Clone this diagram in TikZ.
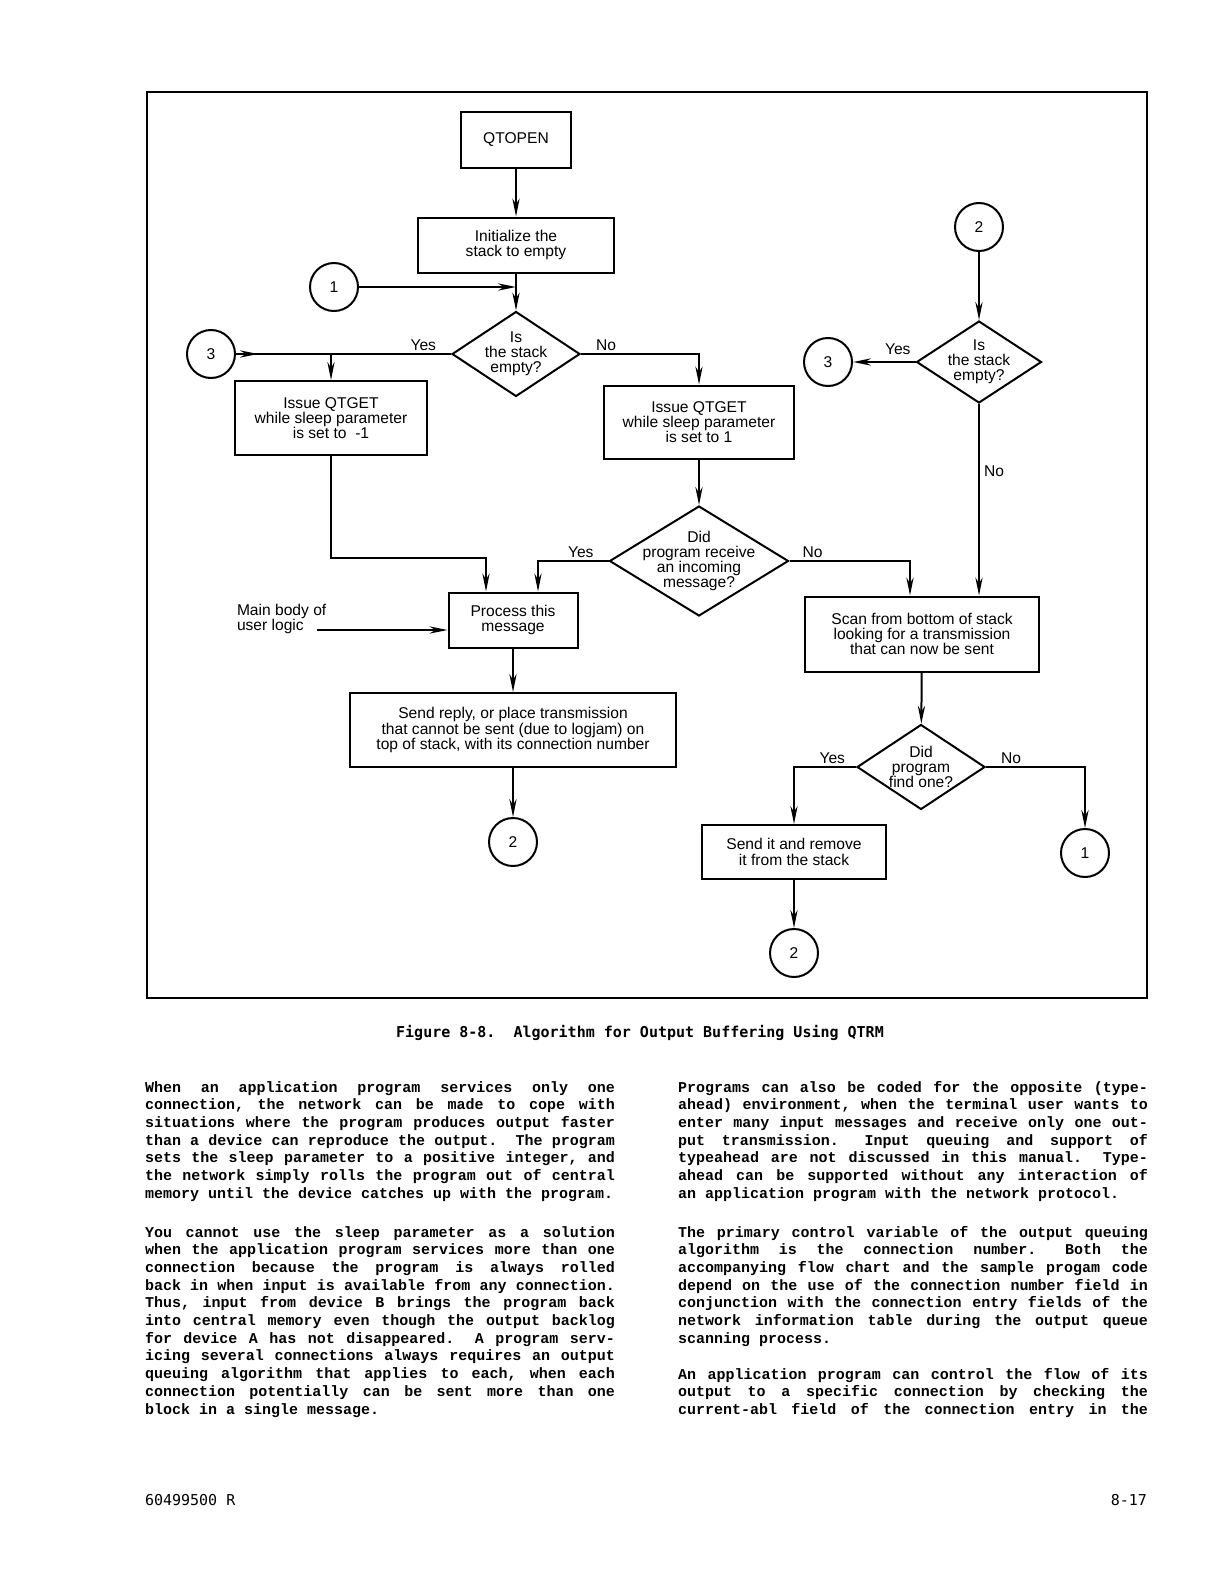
\documentclass[tikz,border=0pt]{standalone}
\usepackage{fontspec}
\setmainfont{Liberation Sans}
\newfontfamily\bodymono{Liberation Mono}
\newfontfamily\capmono{DejaVu Sans Mono}
\usetikzlibrary{shapes.geometric,arrows.meta,decorations.markings}

\newcommand\chartfont{\fontsize{7.8}{7.6}\selectfont}
\newcommand\capfont{\capmono\bfseries\fontsize{7.5}{9}\selectfont}
\newcommand\footfont{\capmono\fontsize{7.5}{9}\selectfont}
\newcommand\bodyfont{\bodymono\bfseries\fontsize{7.5}{8.85}\selectfont
  \spaceskip=4.5pt plus 30pt\xspaceskip=9pt plus 30pt\sfcode`\,=1000
  \hyphenpenalty=10000\exhyphenpenalty=10000\tolerance=10000}

\tikzset{
  box/.style={draw,rectangle,inner sep=0pt,align=center,font=\chartfont},
  dec/.style={draw,diamond,inner sep=0pt},
  conn/.style={draw,circle,inner sep=0pt,minimum size=24pt,font=\chartfont},
  lbl/.style={inner sep=1pt,font=\chartfont},
  para/.style={anchor=base west,inner sep=0pt,text width=235pt,align=justify,font=\bodyfont},
  flow/.style={-{Stealth[length=9pt,width=3.6pt]}},
  startarrow/.style={postaction=decorate,decoration={markings,
    mark=at position #1 with {\arrow{Stealth[length=9pt,width=3.6pt]}}}}
}

\begin{document}
\begin{tikzpicture}[x=.5pt,y=-.5pt,line width=1pt]
\useasboundingbox (0,0) rectangle (1220,1584);
\draw[line width=1.2pt] (147,92) rectangle (1147,998);

\node[box,minimum width=55pt,minimum height=27.5pt] (qtopen) at (516,140) {QTOPEN};
\node[box,minimum width=98pt,minimum height=27.5pt] (init) at (516,245) {Initialize the\\stack to empty};
\node[conn] (c1a) at (334,287) {1};
\node[dec,minimum width=64pt,minimum height=42.5pt] (isempty) at (516,354) {};
\node[lbl,align=center] (isemptyt) at (isempty) {Is\\the stack\\empty?};
\node[conn] (c3a) at (211,354) {3};
\node[box,minimum width=96pt,minimum height=37pt] (getm) at (331,418) {Issue QTGET\\while sleep parameter\\is set to\ \ -1};
\node[box,minimum width=95pt,minimum height=36.5pt] (getp) at (699,422) {Issue QTGET\\while sleep parameter\\is set to 1};
\node[dec,minimum width=89.5pt,minimum height=55pt] (didrecv) at (699,561) {};
\node[lbl,align=center] (didrecvt) at (didrecv) {Did\\program receive\\an incoming\\message?};
\node[box,minimum width=64.5pt,minimum height=27.5pt] (proc) at (513,620) {Process this\\message};
\node[lbl,align=left,anchor=west,inner sep=0pt] (mainbody) at (236,619) {Main body of\\user logic};
\coordinate (mainend) at (317,630);
\node[box,minimum width=163pt,minimum height=37pt] (reply) at (513,730) {Send reply, or place transmission\\that cannot be sent (due to logjam) on\\top of stack, with its connection number};
\node[conn] (c2a) at (513,842) {2};

\node[conn] (c2b) at (979,227) {2};
\node[dec,minimum width=62.5pt,minimum height=41pt] (isempty2) at (979,362) {};
\node[lbl,align=center] (isempty2t) at (isempty2) {Is\\the stack\\empty?};
\node[conn] (c3b) at (828,362) {3};
\node[box,minimum width=117pt,minimum height=37.5pt] (scan) at (922,634) {Scan from bottom of stack\\looking for a transmission\\that can now be sent};
\node[dec,minimum width=64pt,minimum height=42.5pt] (found) at (921,767) {};
\node[lbl,align=center] (foundt) at (found) {Did\\program\\find one?};
\node[box,minimum width=92pt,minimum height=27pt] (send) at (794,852) {Send it and remove\\it from the stack};
\node[conn] (c2c) at (794,953) {2};
\node[conn] (c1b) at (1085,853) {1};

\draw[flow] (qtopen) -- (init);
\draw[flow] (init) -- (isempty);
\draw[flow] (c1a) -- (c1a -| init);
\draw[startarrow=11pt] (c3a) -- (isempty.west);
\node[lbl,anchor=south east] (yes1) at ([xshift=-6pt]isempty.west) {Yes};
\draw[flow] (c3a.east -| getm) -- (getm);
\draw[flow] (isempty.east) -| (getp.north);
\node[lbl,anchor=south west] (no1) at ([xshift=6pt]isempty.east) {No};
\draw[flow] (getp) -- (didrecv);
\draw[flow] (didrecv.west) -| ([xshift=12.5pt]proc.north);
\node[lbl,anchor=south east] (yes2) at ([xshift=-6pt]didrecv.west) {Yes};
\coordinate (procin) at ([xshift=-13.5pt]proc.north);
\draw[flow] (getm.south) |- ([yshift=17pt]procin) -- (procin);
\draw[flow] (mainend) -- (mainend -| proc.west);
\draw[flow] (proc) -- (reply);
\draw[flow] (reply) -- (c2a);

\draw[flow] (c2b) -- (isempty2);
\draw[flow] (isempty2.west) -- (c3b);
\node[lbl,anchor=south east] (yes3) at ([xshift=-1pt,yshift=2pt]isempty2.west) {Yes};
\draw[flow] (isempty2.south) -- (isempty2.south |- scan.north) node[lbl,pos=.35,anchor=west,xshift=1pt] (no3) {No};
\draw[flow] (didrecv.east) -| ([xshift=-6pt]scan.north);
\node[lbl,anchor=south west] (no2) at ([xshift=5pt]didrecv.east) {No};
\draw[flow] (scan) -- (found);
\draw[flow] (found.west) -| (send.north);
\node[lbl,anchor=south east] (yes4) at ([xshift=-4pt]found.west) {Yes};
\draw[flow] (found.east) -| (c1b.north);
\node[lbl,anchor=south west] (no4) at ([xshift=6pt]found.east) {No};
\draw[flow] (send) -- (c2c);

\node[anchor=base,inner sep=0pt,font=\capfont] (caption) at (640,1037) {Figure 8-8.\ \ Algorithm for Output Buffering Using QTRM};

\node[para] (lp1) at (144,1092) {When an application program services only one\break
connection, the network can be made to cope with\break
situations where the program produces output faster\break
than a device can reproduce the output. The program\break
sets the sleep parameter to a positive integer, and\break
the network simply rolls the program out of central\break
memory until the device catches up with the program.};
\node[para] (lp2) at (144,1237) {You cannot use the sleep parameter as a solution\break
when the application program services more than one\break
connection because the program is always rolled\break
back in when input is available from any connection.\break
Thus, input from device B brings the program back\break
into central memory even though the output backlog\break
for device A has not disappeared. A program serv-\break
icing several connections always requires an output\break
queuing algorithm that applies to each, when each\break
connection potentially can be sent more than one\break
block in a single message.};
\node[para] (rp1) at (677,1092) {Programs can also be coded for the opposite (type-\break
ahead) environment, when the terminal user wants to\break
enter many input messages and receive only one out-\break
put transmission. Input queuing and support of\break
typeahead are not discussed in this manual. Type-\break
ahead can be supported without any interaction of\break
an application program with the network protocol.};
\node[para] (rp2) at (677,1237) {The primary control variable of the output queuing\break
algorithm is the connection number. Both the\break
accompanying flow chart and the sample progam code\break
depend on the use of the connection number field in\break
conjunction with the connection entry fields of the\break
network information table during the output queue\break
scanning process.};
\node[para] (rp3) at (677,1379) {An application program can control the flow of its\break
output to a specific connection by checking the\break
current-abl field of the connection entry in the\break};

\node[anchor=base west,inner sep=0pt,font=\footfont] (docno) at (144,1505) {60499500 R};
\node[anchor=base east,inner sep=0pt,font=\footfont] (pageno) at (1148,1505) {8-17};
\end{tikzpicture}
\end{document}
